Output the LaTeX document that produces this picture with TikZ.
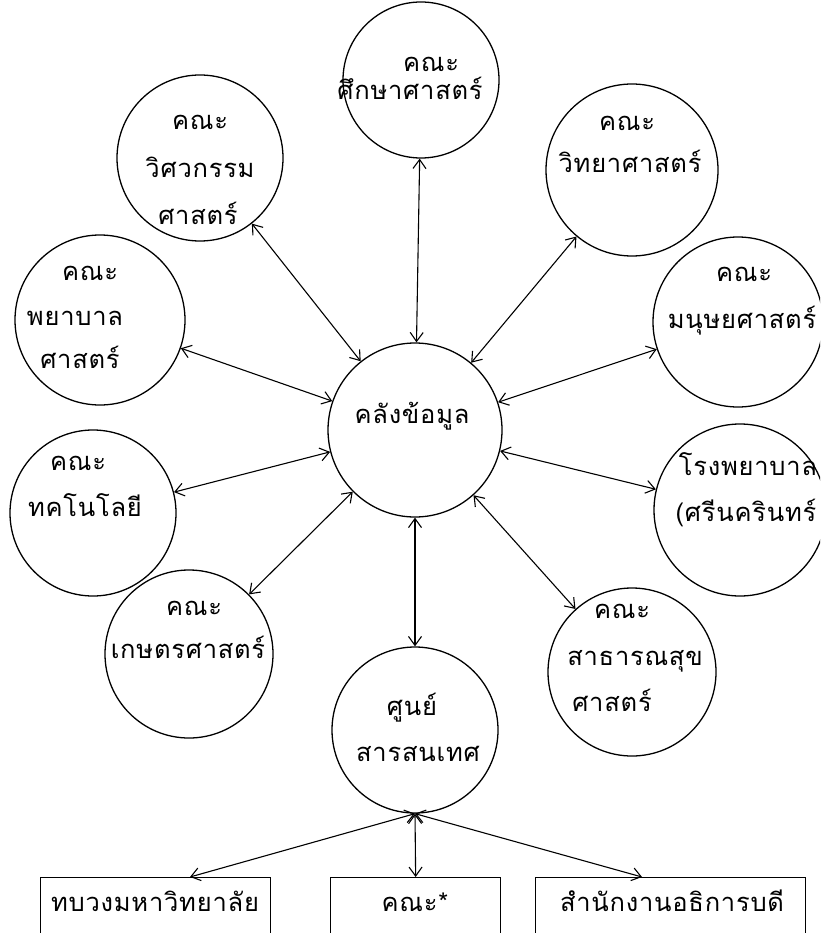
\documentclass[tikz,border=0pt]{standalone}
\usepackage{fontspec}
\newfontfamily\thaifont[Script=Thai,LetterSpace=3]{Loma}
\usetikzlibrary{arrows.meta,calc}
\begin{document}
\begin{tikzpicture}[x=1pt,y=-1pt,
  circ/.style={circle,draw,line width=1.3pt,inner sep=0pt},
  lbl/.style={font=\thaifont\fontsize{25.5}{28}\selectfont,inner sep=0pt,anchor=base},
  arr/.style={line width=1.1pt,{Straight Barb[length=9pt,width=13pt]}-{Straight Barb[length=9pt,width=13pt]}},
  boxst/.style={draw,line width=1.3pt,inner sep=0pt,anchor=north west}]
\useasboundingbox (0,0) rectangle (820,933);
\clip (0,0) rectangle (820,933);
\fill[white] (0,0) rectangle (820,933);
% circles
\node[circ,minimum size=174pt] (C) at (415,430) {};
\node[circ,minimum size=156pt] (edu) at (421,80) {};
\node[circ,minimum size=166pt] (eng) at (200,158) {};
\node[circ,minimum size=172pt] (sci) at (632,170) {};
\node[circ,minimum size=170pt] (nurse) at (100,320) {};
\node[circ,minimum size=170pt] (hum) at (738,322) {};
\node[circ,minimum size=166pt] (tech) at (93,513) {};
\node[circ,minimum size=172pt] (hosp) at (740,510) {};
\node[circ,minimum size=168pt] (agri) at (189,654) {};
\node[circ,minimum size=168pt] (pub) at (632,672) {};
\node[circ,minimum size=166pt] (info) at (415,730) {};
% boxes
\node[boxst,minimum width=230pt,minimum height=120pt] (box1) at (40,877) {};
\node[boxst,minimum width=170pt,minimum height=120pt] (box2) at (330,877) {};
\node[boxst,minimum width=270pt,minimum height=120pt] (box3) at (535,877) {};
% labels
\node[lbl] (Ct) at (412,423) {คลังข้อมูล};
\node[lbl] (edut1) at (431,72) {คณะ};
\node[lbl] (edut2) at (410,100) {ศึกษาศาสตร์};
\node[lbl] (engt1) at (200,130) {คณะ};
\node[lbl] (engt2) at (200,178) {วิศวกรรม};
\node[lbl] (engt3) at (198,225) {ศาสตร์};
\node[lbl] (scit1) at (627,131) {คณะ};
\node[lbl] (scit2) at (630,173) {วิทยาศาสตร์};
\node[lbl] (nurset1) at (90,280) {คณะ};
\node[lbl] (nurset2) at (75,325) {พยาบาล};
\node[lbl] (nurset3) at (80,368) {ศาสตร์};
\node[lbl] (humt1) at (744,281) {คณะ};
\node[lbl] (humt2) at (742,328) {มนุษยศาสตร์};
\node[lbl] (techt1) at (78,470) {คณะ};
\node[lbl] (techt2) at (85,516) {ทคโนโลยี};
\node[lbl] (hospt1) at (748,475) {โรงพยาบาล};
\node[lbl] (hospt2) at (746,521) {(ศรีนครินทร์};
\node[lbl] (agrit1) at (194,615) {คณะ};
\node[lbl] (agrit2) at (188,658) {เกษตรศาสตร์};
\node[lbl] (pubt1) at (622,618) {คณะ};
\node[lbl] (pubt2) at (635,665) {สาธารณสุข};
\node[lbl] (pubt3) at (612,711) {ศาสตร์};
\node[lbl] (infot1) at (412,715) {ศูนย์};
\node[lbl] (infot2) at (418,761) {สารสนเทศ};
\node[lbl] (box1t) at (155,911) {ทบวงมหาวิทยาลัย};
\node[lbl] (box2t) at (415,911) {คณะ*};
\node[lbl] (box3t) at (672,911) {สำนักงานอธิการบดี};
% connectors
\foreach \n in {edu,eng,sci,nurse,hum,tech,hosp,agri,pub,info}
  \draw[arr] (C) -- (\n);
\coordinate (b1a) at (190,877);
\coordinate (b3a) at (642,877);
\draw[arr] (info.south) -- (b1a);
\draw[arr] (info.south) -- (box2.north);
\draw[arr] (info.south) -- (b3a);
\end{tikzpicture}
\end{document}
